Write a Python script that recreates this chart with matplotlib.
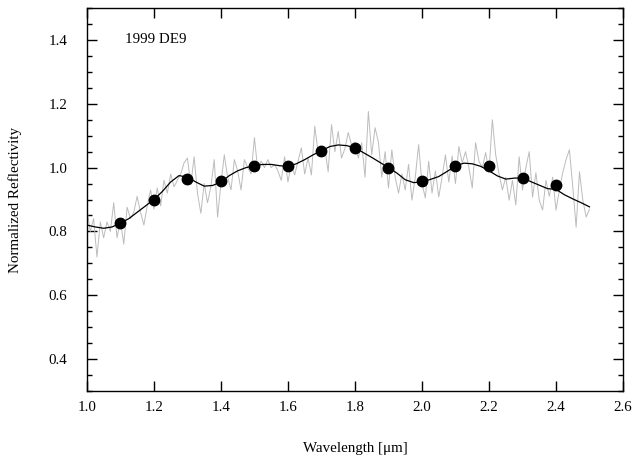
import numpy as np
import matplotlib
matplotlib.use('Agg')
import matplotlib.pyplot as plt
from matplotlib.ticker import MultipleLocator

plt.rcParams['font.family'] = ['Liberation Serif', 'DejaVu Serif']

# raw spectrum (grey), 0.01 um steps from 1.00 to 2.50
spec_wl = np.round(np.arange(1.00, 2.505, 0.01), 2)
spec_refl = [
    0.87, 0.80, 0.84, 0.72, 0.83, 0.78, 0.83, 0.80, 0.89, 0.78,
    0.835, 0.76, 0.876, 0.84, 0.86, 0.91, 0.86, 0.82, 0.88, 0.93,
    0.87, 0.936, 0.88, 0.96, 0.92, 0.98, 0.94, 0.96, 0.98, 1.015,
    1.03, 0.946, 1.034, 0.92, 0.857, 0.95, 0.89, 0.94, 1.025, 0.845,
    0.95, 1.04, 0.97, 0.93, 1.025, 0.99, 0.93, 1.025, 1.00, 0.98,
    1.094, 0.99, 1.02, 1.00, 1.025, 1.00, 1.01, 0.99, 0.96, 1.034,
    0.955, 1.01, 0.977, 1.02, 1.062, 0.98, 1.03, 0.977, 1.13, 1.047,
    1.04, 1.06, 0.987, 1.135, 1.05, 1.113, 1.03, 1.06, 1.11, 1.07,
    1.08, 1.03, 1.078, 0.97, 1.176, 1.04, 1.125, 1.08, 0.97, 1.05,
    0.936, 1.056, 0.97, 0.92, 0.98, 0.93, 1.01, 0.898, 0.97, 1.072,
    0.95, 0.905, 1.02, 0.92, 0.99, 0.908, 0.97, 1.04, 0.955, 1.036,
    0.95, 1.066, 1.015, 1.05, 1.00, 0.936, 1.078, 1.02, 1.00, 1.047,
    0.987, 1.15, 1.04, 0.98, 0.93, 0.97, 0.898, 0.96, 0.883, 1.034,
    0.93, 1.00, 1.05, 0.908, 0.984, 0.898, 0.867, 0.96, 0.91, 0.97,
    0.867, 0.93, 0.984, 1.025, 1.056, 0.94, 0.813, 0.987, 0.898, 0.845,
    0.87,
]

# smoothed fit (black line), 0.025 um steps
fit_wl = np.round(np.arange(1.00, 2.5001, 0.025), 3)
fit_refl = [
    0.82, 0.814, 0.81, 0.814, 0.826, 0.84, 0.86, 0.88, 0.90, 0.925,
    0.955, 0.975, 0.97, 0.955, 0.942, 0.944, 0.955, 0.975, 0.99, 1.0,
    1.006, 1.01, 1.01, 1.006, 1.004, 1.012, 1.025, 1.04, 1.053, 1.066,
    1.071, 1.069, 1.062, 1.047, 1.032, 1.016, 1.0, 0.983, 0.962, 0.953,
    0.955, 0.963, 0.972, 0.988, 1.005, 1.014, 1.012, 1.004, 0.99, 0.974,
    0.964, 0.967, 0.968, 0.956, 0.945, 0.934, 0.932, 0.915, 0.902, 0.89,
    0.877,
]

# binned points
bin_wl = [1.1, 1.2, 1.3, 1.4, 1.5, 1.6, 1.7, 1.8, 1.9, 2.0, 2.1, 2.2, 2.3, 2.4]
bin_refl = [0.826, 0.90, 0.965, 0.958, 1.006, 1.006, 1.053, 1.062, 1.0,
            0.958, 1.006, 1.006, 0.968, 0.946]
bin_err = [0.01] * len(bin_wl)

fig = plt.figure(figsize=(6.39, 4.57), dpi=100)
ax = fig.add_axes([0.136, 0.1444, 0.839, 0.838])

ax.plot(spec_wl, spec_refl, '-', color='#bcbcbc', lw=0.7)
ax.plot(fit_wl, fit_refl, '-', color='black', lw=0.9)
ax.errorbar(bin_wl, bin_refl, yerr=bin_err, fmt='o', color='black',
            ms=7.5, elinewidth=1, capsize=0)

ax.text(1.115, 1.40, '1999 DE9', fontsize=10.8, ha='left', va='center')

ax.set_xlim(1.0, 2.6)
ax.set_ylim(0.3, 1.5)
ax.xaxis.set_major_locator(MultipleLocator(0.2))
ax.yaxis.set_minor_locator(MultipleLocator(0.05))
ax.set_yticks([0.4, 0.6, 0.8, 1.0, 1.2, 1.4])
ax.tick_params(which='both', direction='in', top=True, right=True, labelsize=10.8)
ax.tick_params(which='major', length=7, width=1)
ax.tick_params(which='minor', length=3.5, width=1)
ax.tick_params(axis='x', pad=7)
ax.tick_params(axis='y', pad=14)
for sp in ax.spines.values():
    sp.set_linewidth(1)

ax.set_xlabel('Wavelength [\u03bcm]', fontsize=10.8)
ax.set_ylabel('Normalized Reflectivity', fontsize=10.8)
ax.xaxis.set_label_coords(0.5, -0.134)
ax.yaxis.set_label_coords(-0.121, 0.5)

fig.savefig('out.png', dpi=100)
